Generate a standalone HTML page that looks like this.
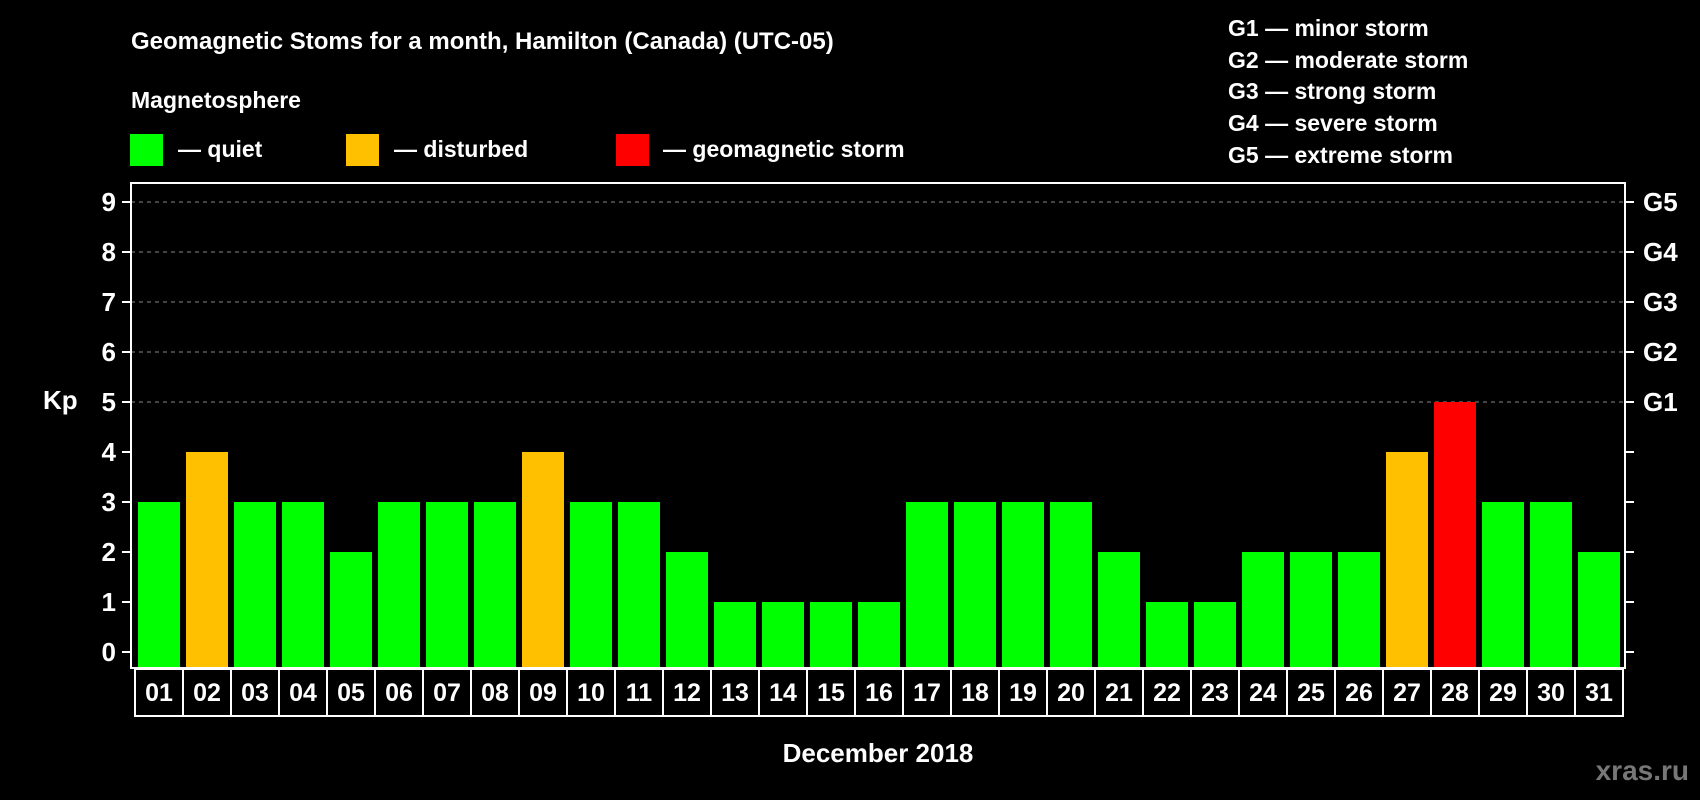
<!DOCTYPE html>
<html><head><meta charset="utf-8"><style>
html,body{margin:0;padding:0;background:#000;}
svg{display:block;font-family:"Liberation Sans",sans-serif;font-weight:bold;}
</style></head><body>
<svg width="1700" height="800" viewBox="0 0 1700 800">
<rect x="0" y="0" width="1700" height="800" fill="#000"/>
<text x="131" y="49" fill="#fff" font-size="24">Geomagnetic Stoms for a month, Hamilton (Canada) (UTC-05)</text>
<text x="131" y="108" fill="#fff" font-size="23">Magnetosphere</text>
<g><rect x="130" y="134" width="33" height="32" fill="#00ff00"/><text x="178" y="157" fill="#fff" font-size="23">— quiet</text></g>
<g><rect x="346" y="134" width="33" height="32" fill="#ffc000"/><text x="394" y="157" fill="#fff" font-size="23">— disturbed</text></g>
<g><rect x="616" y="134" width="33" height="32" fill="#ff0000"/><text x="663" y="157" fill="#fff" font-size="23">— geomagnetic storm</text></g>
<g fill="#fff" font-size="23">
<text x="1228" y="36">G1 — minor storm</text>
<text x="1228" y="68">G2 — moderate storm</text>
<text x="1228" y="99">G3 — strong storm</text>
<text x="1228" y="131">G4 — severe storm</text>
<text x="1228" y="163">G5 — extreme storm</text>
</g>
<g id="grid"></g>
<g id="bars"></g>
<rect x="131" y="183" width="1494" height="485" fill="none" stroke="#fff" stroke-width="2"/>
<g id="yaxis"></g>
<g id="xaxis"></g>
<text x="43" y="409" fill="#fff" font-size="26">Kp</text>
<text x="878" y="762" fill="#fff" font-size="26" text-anchor="middle">December 2018</text>
<text x="1689" y="780" fill="#777" font-size="28" text-anchor="end">xras.ru</text>
</svg>
<script>
const days=["01","02","03","04","05","06","07","08","09","10","11","12","13","14","15","16","17","18","19","20","21","22","23","24","25","26","27","28","29","30","31"];
const kpValues=[3,4,3,3,2,3,3,3,4,3,3,2,1,1,1,1,3,3,3,3,2,1,1,2,2,2,4,5,3,3,2];
const yTicks=[0,1,2,3,4,5,6,7,8,9];
const gLabels=["G1","G2","G3","G4","G5"];
const gLevels=[5,6,7,8,9];
const NS="http://www.w3.org/2000/svg";
function y(v){return 652-50*v;}
function x(i){return 138+48*i;}
const BW=42, BOTTOM=668;
function mk(t,a,p){const e=document.createElementNS(NS,t);for(const k in a)e.setAttribute(k,a[k]);p.appendChild(e);return e;}
const grid=document.getElementById('grid'),bars=document.getElementById('bars'),ya=document.getElementById('yaxis'),xa=document.getElementById('xaxis');
gLevels.forEach(v=>{const l=mk('line',{x1:131,x2:1625,y1:y(v),y2:y(v),stroke:'#888','stroke-width':1,'stroke-dasharray':'4,4'},grid);

});
yTicks.forEach(v=>{
const t=mk('line',{x1:122,x2:131,y1:y(v),y2:y(v),stroke:'#fff','stroke-width':2},ya);


const t2=mk('line',{x1:1625,x2:1634,y1:y(v),y2:y(v),stroke:'#fff','stroke-width':2},ya);


const tx=mk('text',{x:116,y:y(v)+9,fill:'#fff','font-size':26,'text-anchor':'end'},ya);tx.textContent=v;

});
gLabels.forEach((g,i)=>{const tx=mk('text',{x:1643,y:y(gLevels[i])+9,fill:'#fff','font-size':26},ya);tx.textContent=g;

});
kpValues.forEach((v,i)=>{const c=v>=5?'#ff0000':(v==4?'#ffc000':'#00ff00');
const r=mk('rect',{x:x(i),y:y(v),width:BW,height:BOTTOM-y(v),fill:c},bars);

});
days.forEach((d,i)=>{
const b=mk('rect',{x:x(i)-3,y:669,width:48,height:47,fill:'none',stroke:'#fff','stroke-width':2},xa);


const tx=mk('text',{x:x(i)+BW/2,y:701,fill:'#fff','font-size':25,'text-anchor':'middle'},xa);tx.textContent=d;

});
</script>
</body></html>
